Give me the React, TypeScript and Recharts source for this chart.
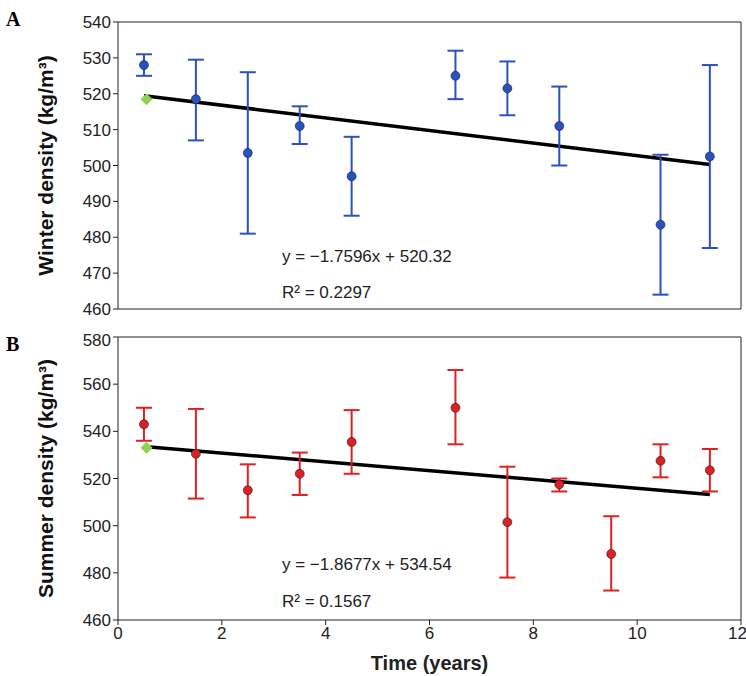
import React from 'react';
import { ComposedChart, Scatter, XAxis, YAxis, ErrorBar, ReferenceLine } from 'recharts';

const winterX = [0.5, 1.5, 2.5, 3.5, 4.5, 6.5, 7.5, 8.5, 10.45, 11.4];
const winterY = [528, 518.5, 503.5, 511, 497, 525, 521.5, 511, 483.5, 502.5];
const winterLo = [525, 507, 481, 506, 486, 518.5, 514, 500, 464, 477];
const winterHi = [531, 529.5, 526, 516.5, 508, 532, 529, 522, 503, 528];
const summerX = [0.5, 1.5, 2.5, 3.5, 4.5, 6.5, 7.5, 8.5, 9.5, 10.45, 11.4];
const summerY = [543, 530.5, 515, 522, 535.5, 550, 501.5, 517.5, 488, 527.5, 523.5];
const summerLo = [536, 511.5, 503.5, 513, 522, 534.5, 478, 514.5, 472.5, 520.5, 514.5];
const summerHi = [550, 549.5, 526, 531, 549, 566, 525, 520, 504, 534.5, 532.5];
const winterFit = { slope: -1.7596, intercept: 520.32 };
const summerFit = { slope: -1.8677, intercept: 534.54 };
const fitRange = [0.5, 11.4];
const greenA = [{ x: 0.55, y: 518.5 }];
const greenB = [{ x: 0.55, y: 533 }];
const xTicks = [0, 2, 4, 6, 8, 10, 12];
const winterTicks = [460, 470, 480, 490, 500, 510, 520, 530, 540];
const summerTicks = [460, 480, 500, 520, 540, 560, 580];

const font = 'Liberation Sans, Arial, sans-serif';
const build = (xs: number[], ys: number[], lo: number[], hi: number[]) =>
  xs.map((x, i) => ({ x, y: ys[i], err: [ys[i] - lo[i], hi[i] - ys[i]] }));

function Panel({ data, color, fit, green, ticks, domain, label, showX, height, top }: any) {
  const seg = fitRange.map((x) => ({ x, y: fit.slope * x + fit.intercept }));
  return (
    <div style={{ position: 'absolute', left: 0, top }}>
      <ComposedChart width={746} height={height}
        margin={{ top: showX ? 7 : 22, right: 5, bottom: showX ? 24 : 20, left: 58 }}>
        <XAxis type="number" dataKey="x" domain={[0, 12]} ticks={xTicks} stroke="#222"
          tick={showX ? { fill: '#222', fontSize: 17, fontFamily: font } : false}
          height={showX ? 32 : 1} tickSize={5}
          label={showX ? { value: 'Time (years)', position: 'insideBottom', offset: -18, style: { fontSize: 20, fontWeight: 'bold', fill: '#222', fontFamily: font } } : undefined} />
        <YAxis type="number" dataKey="y" domain={domain} ticks={ticks} width={60} stroke="#222"
          tick={{ fill: '#222', fontSize: 17, fontFamily: font }} tickSize={5}
          label={{ value: label, angle: -90, position: 'insideLeft', offset: -12, style: { textAnchor: 'middle', fontSize: 21, fontWeight: 'bold', fill: '#111', fontFamily: font } }} />
        <ReferenceLine y={domain[1]} stroke="#222" ifOverflow="visible" />
        <ReferenceLine x={12} stroke="#222" ifOverflow="visible" />
        <ReferenceLine segment={seg} stroke="#000" strokeWidth={3.5} ifOverflow="visible" />
        <Scatter data={data} fill={color} isAnimationActive={false} shape={(p: any) => <circle cx={p.cx} cy={p.cy} r={4.5} fill={color} stroke="#123" strokeWidth={0.6} />}>
          <ErrorBar dataKey="err" direction="y" stroke={color} strokeWidth={2} width={8} />
        </Scatter>
        <Scatter data={green} fill="#8fd14f" isAnimationActive={false} shape={(p: any) => <path d={`M${p.cx},${p.cy - 6}L${p.cx + 6},${p.cy}L${p.cx},${p.cy + 6}L${p.cx - 6},${p.cy}Z`} fill="#8fd14f" />} />
      </ComposedChart>
    </div>
  );
}

const txt = (s: string, left: number, top: number, extra: any = {}) => (
  <div style={{ position: 'absolute', left, top, fontFamily: font, fontSize: 17, color: '#222', whiteSpace: 'nowrap', ...extra }}>{s}</div>
);

export default function App() {
  return (
    <div style={{ position: 'absolute', left: 0, top: 0, width: 746, height: 676, background: '#fff' }}>
      <Panel data={build(winterX, winterY, winterLo, winterHi)} color="#2a52be" fit={winterFit} green={greenA}
        ticks={winterTicks} domain={[460, 540]} label="Winter density (kg/m³)" showX={false} height={330} top={0} />
      <Panel data={build(summerX, summerY, summerLo, summerHi)} color="#e02020" fit={summerFit} green={greenB}
        ticks={summerTicks} domain={[460, 580]} label="Summer density (kg/m³)" showX={true} height={346} top={330} />
      {txt('A', 6, 8, { fontFamily: 'Liberation Serif, serif', fontWeight: 'bold', fontSize: 20, color: '#000' })}
      {txt('B', 6, 333, { fontFamily: 'Liberation Serif, serif', fontWeight: 'bold', fontSize: 20, color: '#000' })}
      {txt('y = −1.7596x + 520.32', 282, 247)}
      {txt('R² = 0.2297', 282, 283)}
      {txt('y = −1.8677x + 534.54', 282, 555)}
      {txt('R² = 0.1567', 282, 592)}
    </div>
  );
}
